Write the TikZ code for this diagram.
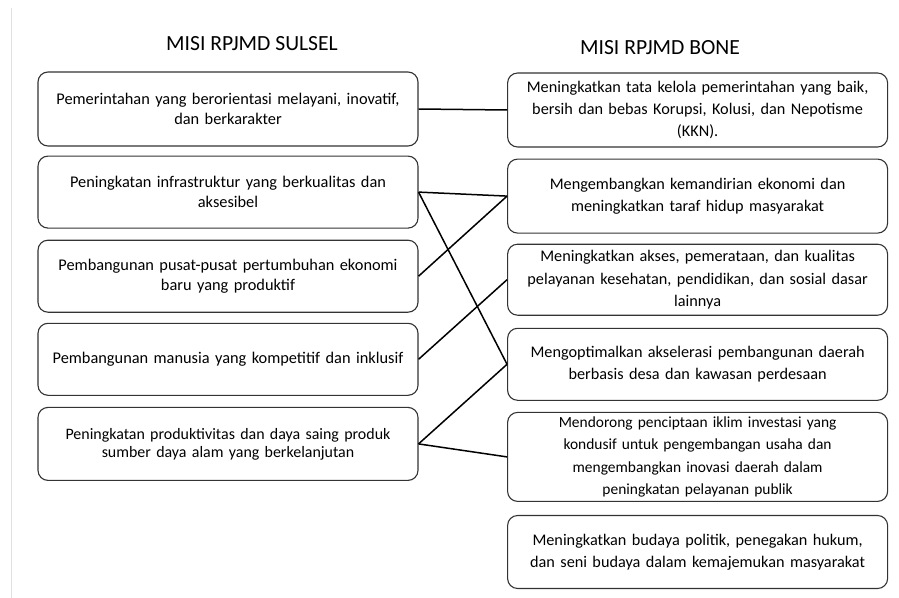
\documentclass[tikz,border=0pt]{standalone}
\usepackage{fontspec}
\setmainfont{Carlito}
\usetikzlibrary{positioning}

\begin{document}
\begin{tikzpicture}[x=1bp, y=-1bp, node distance=11bp,
    misi/.style={draw=black!80, line width=1.1bp, rounded corners=10bp, text width=366bp, inner xsep=7bp, inner ysep=2bp, align=center, minimum height=72bp},
    kiri/.style={misi, font=\fontsize{16.4}{19.5}\selectfont},
    kanan/.style={misi, font=\fontsize{16.3}{22.3}\selectfont},
    judul/.style={font=\fontsize{21.7}{25}\selectfont},
    link/.style={line width=1.5bp}]
    \useasboundingbox (0,0) rectangle (899,598);
    \draw[black!12, line width=1bp] (11,8) -- (11,598);

    % MISI RPJMD SULSEL
    \node[judul] (sulsel) at (252,44) {MISI RPJMD SULSEL};
    \node[kiri, minimum height=74bp] (s1) at (228,109) {Pemerintahan yang berorientasi melayani, inovatif,\\dan berkarakter};
    \node[kiri] (s2) [below=9bp of s1] {Peningkatan infrastruktur yang berkualitas dan\\aksesibel};
    \node[kiri] (s3) [below=of s2] {Pembangunan pusat-pusat pertumbuhan ekonomi\\baru yang produktif};
    \node[kiri] (s4) [below=10bp of s3] {Pembangunan manusia yang kompetitif dan inklusif};
    \node[kiri, font=\fontsize{16}{18}\selectfont, minimum height=73bp] (s5) [below=of s4] {Peningkatan produktivitas dan daya saing produk\\sumber daya alam yang berkelanjutan};

    % MISI RPJMD BONE
    \node[judul] (bone) at (660,48) {MISI RPJMD BONE};
    \node[kanan, minimum height=74bp] (b1) [right=88.5bp of s1, yshift=-1bp] {Meningkatkan tata kelola pemerintahan yang baik,\\bersih dan bebas Korupsi, Kolusi, dan Nepotisme\\(KKN).};
    \node[kanan, minimum height=74bp] (b2) [below=of b1] {Mengembangkan kemandirian ekonomi dan\\meningkatkan taraf hidup masyarakat};
    \node[kanan, minimum height=71bp] (b3) [below=10bp of b2] {Meningkatkan akses, pemerataan, dan kualitas\\pelayanan kesehatan, pendidikan, dan sosial dasar\\lainnya};
    \node[kanan] (b4) [below=12bp of b3] {Mengoptimalkan akselerasi pembangunan daerah\\berbasis desa dan kawasan perdesaan};
    \node[kanan, font=\fontsize{15.5}{22.3}\selectfont, minimum height=89bp] (b5) [below=of b4] {Mendorong penciptaan iklim investasi yang\\kondusif untuk pengembangan usaha dan\\mengembangkan inovasi daerah dalam\\peningkatan pelayanan publik};
    \node[kanan, minimum height=73bp] (b6) [below=13bp of b5] {Meningkatkan budaya politik, penegakan hukum,\\dan seni budaya dalam kemajemukan masyarakat};

    \draw[link] (s1.east) -- (b1.west);
    \draw[link] (s2.east) -- (b2.west);
    \draw[link] (s2.east) -- (b4.west);
    \draw[link] (s3.east) -- (b2.west);
    \draw[link] (s4.east) -- (b3.west);
    \draw[link] (s5.east) -- (b4.west);
    \draw[link] (s5.east) -- (b5.west);
\end{tikzpicture}
\end{document}
